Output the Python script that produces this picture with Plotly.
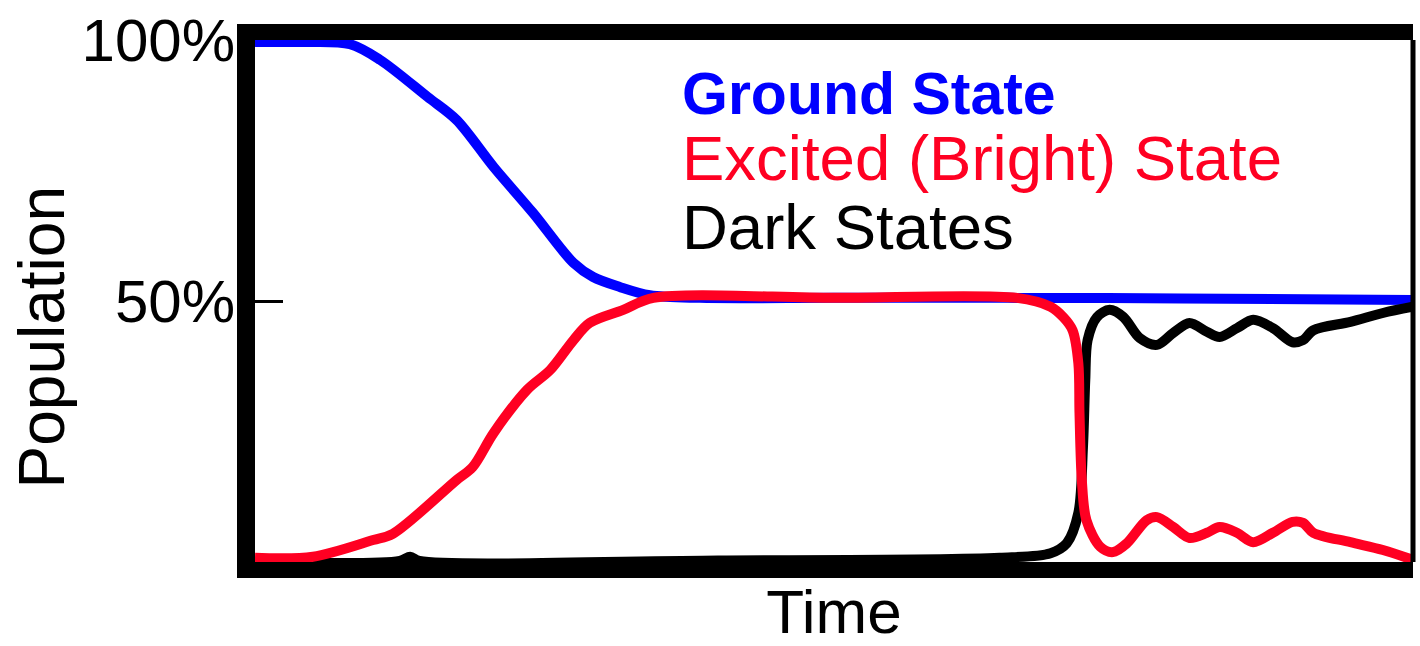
import plotly.graph_objects as go

# ---- data (time in arbitrary units 0-100, population in %) ----
t_ground = [0, 3.9, 8.2, 10.8, 14.9, 17.4, 20.6, 24.0, 27.5, 29.2, 31.5, 34.1, 38.4, 50, 65, 80, 100]
p_ground = [99.6, 99.6, 99.2, 96.2, 89.1, 84.7, 75.7, 66.9, 57.3, 54.6, 52.7, 51.1, 50.6, 50.6, 50.6, 50.5, 50.2]

t_excited = [0, 5.0, 10.2, 11.9, 17.4, 18.8, 20.6, 23.5, 25.5, 27.5, 28.9, 31.8, 34.4, 50, 65.8,
             68.7, 69.8, 70.6, 71.1, 71.2, 71.4, 71.8, 73.0, 74.1, 75.3, 77.0, 77.9, 79.3, 80.7,
             82.2, 83.3, 84.8, 86.2, 87.9, 89.6, 90.5, 91.4, 94.6, 97.4, 100]
p_excited = [0.8, 1.0, 4.2, 5.4, 15.7, 18.2, 24.7, 33.0, 36.8, 42.5, 45.8, 48.3, 50.6, 50.6, 50.6,
             48.9, 46.9, 44.4, 38.1, 28.5, 15.7, 8.0, 2.9, 1.9, 3.6, 8.0, 8.6, 6.7, 4.6,
             5.6, 6.7, 5.6, 3.8, 5.6, 7.7, 7.5, 5.6, 3.8, 2.3, 0.4]

t_dark = [0, 12.5, 13.4, 14.2, 40, 64.3, 68.7, 70.1, 71.1, 71.5, 71.7, 71.9, 72.7, 73.8, 75.0,
          76.4, 77.9, 79.3, 80.7, 82.2, 83.3, 84.8, 86.2, 87.9, 89.6, 90.5, 91.4, 94.6, 97.4, 100]
p_dark = [0, 0.2, 1.0, 0.2, 0.3, 0.8, 1.7, 3.6, 9.4, 22.0, 34.9, 42.5, 46.9, 48.3, 46.9,
          42.9, 41.6, 43.9, 45.8, 44.1, 43.1, 44.8, 46.4, 44.8, 42.1, 42.5, 44.4, 46.0, 47.7, 48.9]

series_names = ["Ground State", "Excited (Bright) State", "Dark States"]
series_colors = ["#0000ff", "#ff0022", "#000000"]

tick_vals = [50, 100]
tick_text = ["50%", "100%"]

FONT = "Liberation Sans, Arial, Helvetica, sans-serif"

fig = go.Figure()
line_w = 10
smooth = 0.9
fig.add_trace(go.Scatter(x=t_ground, y=p_ground, mode="lines", name=series_names[0],
                         line=dict(color=series_colors[0], width=line_w, shape="spline", smoothing=smooth)))
fig.add_trace(go.Scatter(x=t_dark, y=p_dark, mode="lines", name=series_names[2],
                         line=dict(color=series_colors[2], width=line_w, shape="spline", smoothing=smooth)))
fig.add_trace(go.Scatter(x=t_excited, y=p_excited, mode="lines", name=series_names[1],
                         line=dict(color=series_colors[1], width=line_w, shape="spline", smoothing=smooth)))

# legend as coloured text
legend_y = [0.8966, 0.774, 0.6418]
legend_bold = [True, False, False]
for name, col, yy, b in zip(series_names, series_colors, legend_y, legend_bold):
    fig.add_annotation(xref="paper", yref="paper", x=0.367, y=yy, xanchor="left", yanchor="middle",
                       text=f"<b>{name}</b>" if b else name, showarrow=False,
                       font=dict(family=FONT, size=59 if b else 63.5, color=col))

# y-axis title
fig.add_annotation(xref="paper", yref="paper", x=-0.184, y=0.43, xanchor="center", yanchor="middle",
                   text="Population", textangle=-90, showarrow=False,
                   font=dict(family=FONT, size=64, color="black"))

# thin right frame edge
fig.add_shape(type="line", xref="paper", yref="paper", x0=1, x1=1, y0=0, y1=1,
              line=dict(color="black", width=5), layer="above")

fig.update_layout(
    template="none",
    width=1420, height=646,
    margin=dict(l=255, r=7, t=40, b=84),
    paper_bgcolor="white", plot_bgcolor="white",
    showlegend=False,
    font=dict(family=FONT, color="black"),
    xaxis=dict(range=[0, 100], showgrid=False, zeroline=False, showticklabels=False, ticks="",
               automargin=False,
               showline=True, linecolor="black", linewidth=16, mirror=True,
               title=dict(text="Time", font=dict(family=FONT, size=62, color="black"), standoff=28)),
    yaxis=dict(range=[0, 100], showgrid=False, zeroline=False, automargin=False,
               tickvals=tick_vals, ticktext=tick_text, ticks="inside", ticklen=28, tickwidth=3,
               tickcolor="black", tickfont=dict(family=FONT, size=60, color="black"),
               ticklabelstandoff=-10,
               showline=True, linecolor="black", linewidth=18),
)

fig.write_html("out.html",
               config={"displayModeBar": False},
               post_script="document.body.style.margin='0';document.body.style.overflow='hidden';")
